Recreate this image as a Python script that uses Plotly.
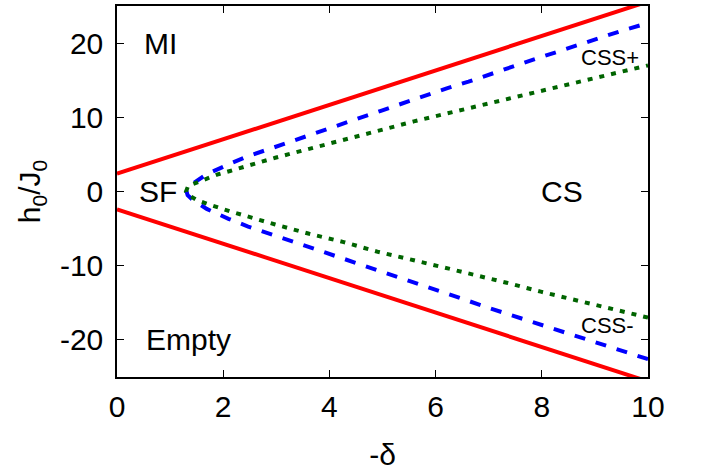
import plotly.graph_objects as go

# Red solid boundaries
red_x = [0.0, 10.0]
red_up_y = [2.4, 25.6]
red_lo_y = [-2.4, -25.6]

# Blue dashed (upper and lower branches)
blue_up_x = [1.31, 1.33, 1.41, 1.69, 2.10, 2.47, 2.93, 3.32, 3.72, 4.14, 4.56, 4.97, 5.38, 5.79, 6.21, 6.62, 7.04, 7.43, 7.84, 8.28, 8.69, 9.10, 9.52, 10.0]
blue_up_y = [0.0, 0.5, 0.99, 2.33, 3.66, 4.77, 5.88, 6.87, 7.89, 8.92, 9.89, 10.88, 11.9, 12.89, 13.9, 14.8, 15.83, 16.9, 17.78, 18.8, 19.8, 20.7, 21.7, 22.7]
blue_lo_x = [1.31, 1.33, 1.41, 1.69, 2.10, 2.47, 2.88, 3.31, 3.73, 4.14, 4.55, 4.97, 5.38, 5.79, 6.21, 6.62, 7.04, 7.44, 7.85, 8.28, 8.69, 9.11, 9.52, 10.0]
blue_lo_y = [0.0, -0.5, -1.02, -2.35, -3.69, -4.72, -5.7, -6.82, -7.8, -8.82, -9.8, -10.83, -11.8, -12.78, -13.77, -14.75, -15.78, -16.7, -17.65, -18.6, -19.65, -20.5, -21.5, -22.6]

# Green dotted (upper and lower branches)
green_up_x = [1.30, 1.34, 1.50, 1.72, 1.91, 2.13, 2.34, 2.56, 2.77, 2.98, 3.62, 4.27, 4.93, 5.59, 6.24, 6.90, 7.34, 7.76, 8.20, 8.64, 9.08, 9.52, 10.0]
green_up_y = [0.0, 0.76, 1.2, 1.87, 2.33, 2.77, 3.21, 3.66, 4.1, 4.55, 5.75, 6.91, 8.2, 9.45, 10.56, 11.7, 12.5, 13.24, 14.04, 14.7, 15.47, 16.2, 17.0]
green_lo_x = [1.30, 1.37, 1.50, 1.71, 1.91, 2.13, 2.34, 2.56, 2.77, 2.98, 3.62, 4.27, 4.93, 5.59, 6.25, 6.68, 7.34, 7.98, 8.64, 9.30, 10.0]
green_lo_y = [0.0, -0.57, -1.15, -1.69, -2.22, -2.67, -3.11, -3.6, -4.05, -4.45, -5.7, -6.82, -8.16, -9.27, -10.4, -11.1, -12.3, -13.5, -14.6, -15.8, -17.0]

x_ticks = [0, 2, 4, 6, 8, 10]
y_ticks = [-20, -10, 0, 10, 20]

FONT = "Liberation Sans, Arial, sans-serif"
FS = 30

fig = go.Figure()
fig.add_trace(go.Scatter(x=red_x, y=red_up_y, mode="lines",
                         line=dict(color="#ff0000", width=4), showlegend=False))
fig.add_trace(go.Scatter(x=red_x, y=red_lo_y, mode="lines",
                         line=dict(color="#ff0000", width=4), showlegend=False))
fig.add_trace(go.Scatter(x=blue_lo_x[::-1] + blue_up_x[1:], y=blue_lo_y[::-1] + blue_up_y[1:],
                         mode="lines", line=dict(color="#0000ff", width=4, dash="11px,11px"),
                         showlegend=False))
fig.add_trace(go.Scatter(x=green_lo_x[::-1] + green_up_x[1:], y=green_lo_y[::-1] + green_up_y[1:],
                         mode="lines", line=dict(color="#006400", width=4, dash="5px,7px"),
                         showlegend=False))

labels = [("MI", 0.47, 20, FS), ("SF", 0.37, 0, FS), ("CS", 7.95, 0, FS),
          ("Empty", 0.5, -20, FS), ("CSS+", 8.7, 18.1, 22), ("CSS-", 8.7, -18.1, 22)]
for t, x, y, s in labels:
    fig.add_annotation(x=x, y=y, text=t, showarrow=False, xanchor="left", yanchor="middle",
                       font=dict(family=FONT, size=s, color="black"))

axis_common = dict(showline=True, linecolor="black", linewidth=1.5, mirror="ticks",
                   ticks="inside", ticklen=7, tickcolor="black", tickwidth=1,
                   showgrid=False, zeroline=False,
                   tickfont=dict(family=FONT, size=FS, color="black"))

fig.update_xaxes(range=[0, 10], tickvals=x_ticks, ticktext=[str(v) for v in x_ticks],
                 ticklabelstandoff=2,
                 title=dict(text="-δ", font=dict(family=FONT, size=FS, color="black"), standoff=22),
                 **axis_common)
fig.update_yaxes(range=[-25, 25], tickvals=y_ticks, ticktext=[str(v) for v in y_ticks],
                 ticklabelstandoff=6,
                 title=dict(text="h<sub>0</sub>/J<sub>0</sub>", font=dict(family=FONT, size=FS, color="black"), standoff=10),
                 **axis_common)

fig.update_layout(width=704, height=475, margin=dict(l=117, r=56, t=4, b=98),
                  plot_bgcolor="white", paper_bgcolor="white")

fig.write_html("out.html")
